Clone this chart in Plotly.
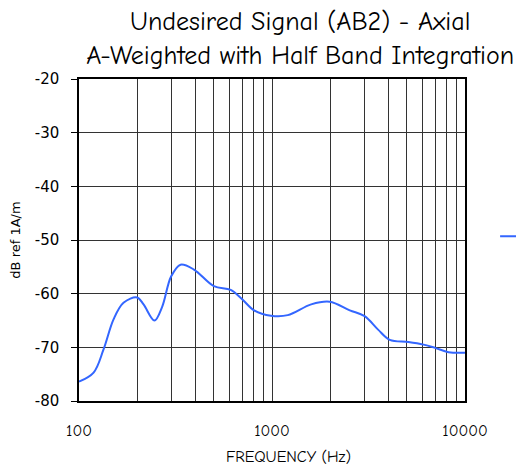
import plotly.graph_objects as go

freq_hz = [100, 119, 134, 151, 170, 200, 216, 246, 270, 300, 336, 394, 500, 611, 703,
           808, 988, 1207, 1596, 1989, 2530, 3020, 3545, 4075, 5090, 6100, 7000, 8220, 10000]
level_db = [-76.4, -74.7, -70.4, -64.8, -61.7, -60.7, -62.0, -65.0, -62.4, -56.8, -54.6,
            -55.5, -58.6, -59.3, -61.1, -63.1, -64.1, -64.0, -62.0, -61.5, -63.1, -64.2,
            -66.7, -68.6, -69.0, -69.5, -70.1, -70.9, -71.0]

x_grid = [100, 200, 300, 400, 500, 600, 700, 800, 900, 1000, 2000, 3000, 4000, 5000,
          6000, 7000, 8000, 9000, 10000]
x_labels = ["100", "", "", "", "", "", "", "", "", "1000", "", "", "", "", "", "", "", "", "10000"]
y_ticks = [-80, -70, -60, -50, -40, -30, -20]
y_labels = ["-80", "-70", "-60", "-50", "-40", "-30", "-20"]

title_lines = ["Undesired Signal (AB2) - Axial", "A-Weighted with Half Band Integration"]
x_title = "FREQUENCY (Hz)"
y_title = "dB ref 1A/m"

comic = "Comic Sans MS, Comic Neue, Lato, sans-serif"
sans = "DejaVu Sans, Verdana, sans-serif"

fig = go.Figure()
fig.add_trace(go.Scatter(
    x=freq_hz, y=level_db, mode="lines", name=" ",
    line=dict(color="#3366ff", width=2, shape="spline", smoothing=1.0),
    showlegend=True,
))

# page body has an 8px margin: figure sits at (8, 8)
fig.update_layout(
    width=516, height=462,
    margin=dict(l=71, r=59, t=71, b=69, autoexpand=False),
    paper_bgcolor="white", plot_bgcolor="white",
    title=dict(text="<br>".join(title_lines), x=0.573, xref="paper", xanchor="center",
               y=0.952, yref="container", yanchor="top",
               font=dict(family=comic, size=26, color="black")),
    showlegend=True,
    legend=dict(x=1.078, y=0.512, xanchor="left", yanchor="middle",
                font=dict(size=12), bgcolor="rgba(0,0,0,0)", itemwidth=45,
                borderwidth=0),
    annotations=[dict(text=x_title, xref="paper", yref="paper", x=0.542, y=-0.174,
                      xanchor="center", yanchor="middle", showarrow=False,
                      font=dict(family=comic, size=16, color="black"))],
)

fig.update_xaxes(
    type="log", range=[2, 4],
    tickvals=x_grid, ticktext=x_labels,
    showgrid=True, gridcolor="#333333", gridwidth=1,
    showline=True, linecolor="black", linewidth=1.5, mirror=True,
    ticks="", ticklabelstandoff=14,
    tickfont=dict(family=comic, size=16, color="black"),
    zeroline=False,
)
fig.update_yaxes(
    range=[-80, -20], tickvals=y_ticks, ticktext=y_labels,
    showgrid=True, gridcolor="#333333", gridwidth=1,
    showline=True, linecolor="black", linewidth=1.5, mirror=True,
    ticks="outside", ticklen=6, tickcolor="black", ticklabelstandoff=9,
    tickfont=dict(family=sans, size=15, color="black"),
    title=dict(text=y_title, font=dict(family=sans, size=13, color="black"), standoff=16),
    zeroline=False,
)

fig.write_html("out.html")
